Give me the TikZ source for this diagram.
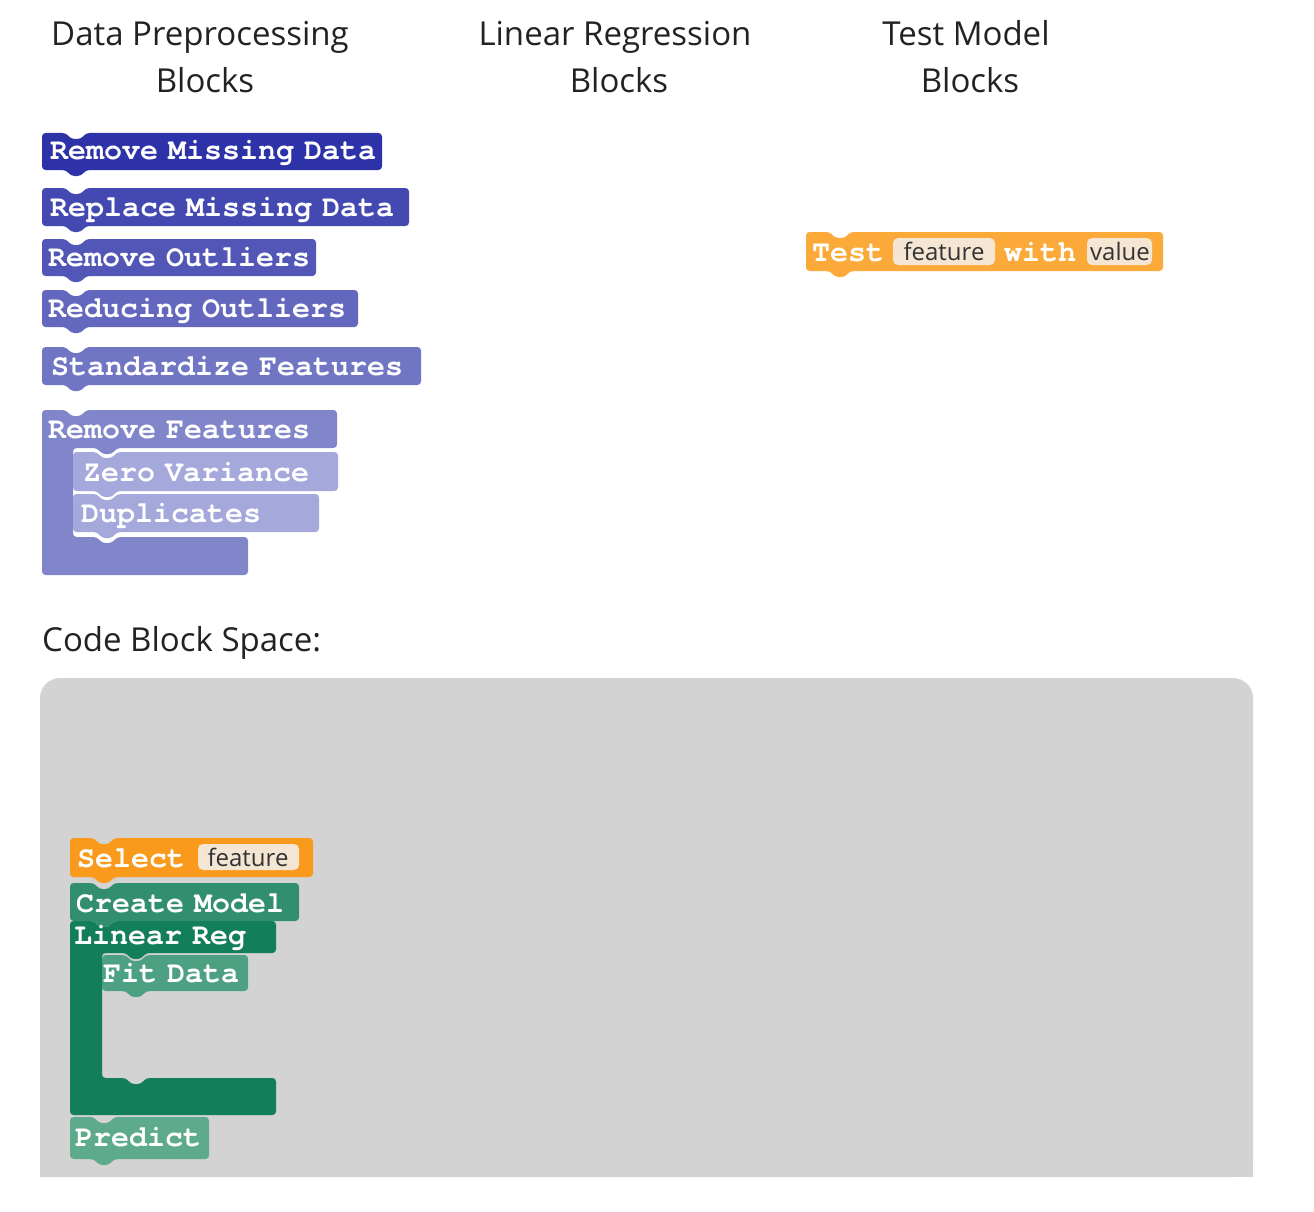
\documentclass[tikz,border=0pt]{standalone}
\usepackage{fontspec}
\setmainfont{Open Sans}
\newfontfamily\blockfont[WordSpace=0.55]{TeX Gyre Cursor}
\definecolor{cA}{HTML}{2E32A8}
\definecolor{cB}{HTML}{4449B2}
\definecolor{cC}{HTML}{5156B7}
\definecolor{cD}{HTML}{6368BE}
\definecolor{cE}{HTML}{7075C4}
\definecolor{cF}{HTML}{8186CB}
\definecolor{cG}{HTML}{A5A8DB}
\definecolor{orTest}{HTML}{FBAA3A}
\definecolor{orSel}{HTML}{F99A1C}
\definecolor{field}{HTML}{F5E6D3}
\definecolor{gCreate}{HTML}{318F70}
\definecolor{gLin}{HTML}{137E5A}
\definecolor{gFit}{HTML}{4EA083}
\definecolor{gPred}{HTML}{5DAA8D}
\definecolor{space}{HTML}{D3D3D3}
\definecolor{headtxt}{HTML}{222222}
\tikzset{
  btxt/.style={inner sep=0pt, anchor=base west, text=white, font=\blockfont\bfseries\fontsize{30}{31}\selectfont},
  head/.style={inner sep=0pt, anchor=base, text=headtxt, font=\fontsize{33}{34}\selectfont},
  ftxt/.style={inner sep=0pt, anchor=base, text=black!80, font=\fontsize{24}{25}\selectfont},
  fbox/.style={fill=field, rounded corners=5pt},
}
% simple block: colour, x1, y1, x2, y2
\newcommand\sblock[5]{%
  \fill[#1, rounded corners=3.5pt] (#2,#3) -- ({#2+24},#3) -- ({#2+29},{#3+6}) -- ({#2+39},{#3+6}) -- ({#2+44},#3)
    -- (#4,#3) -- (#4,#5) -- ({#2+44},#5) -- ({#2+39},{#5+6}) -- ({#2+29},{#5+6}) -- ({#2+24},#5) -- (#2,#5) -- cycle;}
% C block: colour, x1, y1, x2, ya, xi, yb, x3, y2
\newcommand\cblock[9]{%
  \fill[#1, rounded corners=3.5pt] (#2,#3) -- ({#2+24},#3) -- ({#2+29},{#3+6}) -- ({#2+39},{#3+6}) -- ({#2+44},#3)
    -- (#4,#3) -- (#4,#5) -- ({#6+44},#5) -- ({#6+39},{#5+6}) -- ({#6+29},{#5+6}) -- ({#6+24},#5) -- (#6,#5)
    -- (#6,#7) -- ({#6+24},#7) -- ({#6+29},{#7+6}) -- ({#6+39},{#7+6}) -- ({#6+44},#7) -- (#8,#7) -- (#8,#9) -- (#2,#9) -- cycle;}
\begin{document}
\begin{tikzpicture}[x=1pt,y=-1pt]
\useasboundingbox (0,0) rectangle (1314,1212);
% headings
\node[head] (h1a) at (200,46) {Data Preprocessing};
\node[head] (h1b) at (205,93) {Blocks};
\node[head] (h2a) at (615,46) {Linear Regression};
\node[head] (h2b) at (619,93) {Blocks};
\node[head] (h3a) at (966,46) {Test Model};
\node[head] (h3b) at (970,93) {Blocks};
% preprocessing blocks
\sblock{cA}{42}{133}{382}{170}
\node[btxt] (b1) at (50,160) {Remove Missing Data};
\sblock{cB}{42}{188}{409}{226}
\node[btxt] (b2) at (50,216) {Replace Missing Data};
\sblock{cC}{42}{239}{316}{276}
\node[btxt] (b3) at (48,266) {Remove Outliers};
\sblock{cD}{42}{290}{358}{327}
\node[btxt] (b4) at (48,317) {Reducing Outliers};
\sblock{cE}{42}{347}{421}{385}
\node[btxt] (b5) at (51,375) {Standardize Features};
\cblock{cF}{42}{410}{337}{448}{73}{537}{248}{575}
\node[btxt] (b6) at (48,438) {Remove Features};
\sblock{cG}{73}{452}{338}{491}
\node[btxt] (b7) at (83,481) {Zero Variance};
\sblock{cG}{73}{494}{319}{532}
\node[btxt] (b8) at (81,522) {Duplicates};
% test block
\sblock{orTest}{806}{232}{1163}{271}
\node[btxt] (t1) at (812,261) {Test};
\fill[fbox] (893,238) rectangle (995,265);
\node[ftxt] (t2) at (944,260) {feature};
\node[btxt] (t3) at (1004,261) {with};
\fill[fbox] (1087,238) rectangle (1152,265);
\node[ftxt] (t4) at (1120,260) {value};
% code block space
\node[inner sep=0pt, anchor=base west, text=headtxt, font=\fontsize{33}{34}\selectfont] (cs) at (42,651) {Code Block Space:};
\fill[space, rounded corners=20pt] (40,1177) -- (40,678) -- (1253,678) -- (1253,1177) [sharp corners] -- cycle;
\fill[space] (40,1150) rectangle (1253,1177);
% code blocks
\sblock{orSel}{70}{838}{313}{877}
\node[btxt] (s1) at (77,867) {Select};
\fill[fbox] (198,844) rectangle (299,870);
\node[ftxt] (s2) at (248,866) {feature};
\cblock{gLin}{70}{921}{276}{953}{102}{1078}{276}{1115}
\sblock{gCreate}{70}{883}{299}{921}
\node[btxt] (s3) at (76,912) {Create Model};
\node[btxt] (s4) at (74,944) {Linear Reg};
\sblock{gFit}{102}{955}{248}{991}
\node[btxt] (s5) at (103,982) {Fit Data};
\sblock{gPred}{70}{1117}{209}{1159}
\node[btxt] (s6) at (75,1146) {Predict};
\end{tikzpicture}
\end{document}
